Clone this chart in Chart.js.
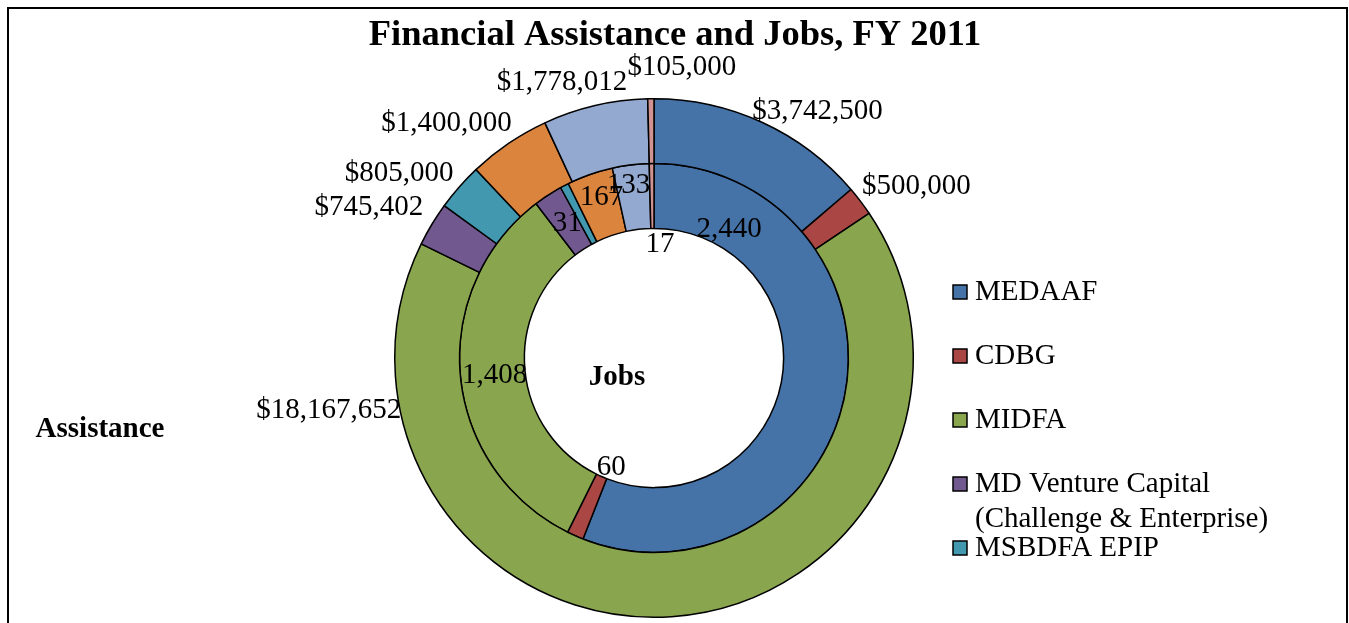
<!DOCTYPE html>
<html><head><meta charset="utf-8">
<script src="https://cdn.jsdelivr.net/npm/chart.js@4.4.0/dist/chart.umd.min.js"></script>
<style>html,body{margin:0;padding:0;background:#fff;overflow:hidden}canvas{display:block}</style>
</head><body>
<canvas id="c" width="1349" height="623"></canvas>
<script>
// ---- data ----
const TITLE = 'Financial Assistance and Jobs, FY 2011';
const programs = ['MEDAAF', 'CDBG', 'MIDFA', 'MD Venture Capital (Challenge & Enterprise)', 'MSBDFA EPIP', 'Other 1', 'Other 2', 'Other 3'];
const legendLines = [['MEDAAF'], ['CDBG'], ['MIDFA'], ['MD Venture Capital', '(Challenge & Enterprise)'], ['MSBDFA EPIP'], ['Other 1'], ['Other 2'], ['Other 3']];
const assistance = [3742500, 500000, 18167652, 745402, 805000, 1400000, 1778012, 105000];
// MD Venture Capital jobs has no visible label; estimated from its slice size
const jobs = [2440, 60, 1408, 105, 31, 167, 133, 17];
const jobsLabelShown = [true, true, true, false, true, true, true, true];
const ringNames = ['Assistance', 'Jobs'];

// ---- style ----
const colors = ['#4572A7', '#AA4643', '#89A54E', '#71588F', '#4198AF', '#DB843D', '#93A9CF', '#D19392'];
const FONT = '"Liberation Serif", "Times New Roman", serif';
// label offsets (px) relative to slice anchor point
const outerNudge = [[55,-11],[56,-15],[-343,-206],[-63,-17],[-60,-14],[-62,-20],[-33,-23],[31,-31]];
const innerNudge = [[-84,-159],[23,-39],[2,2],[0,0],[-12,9],[1,-8],[-6,-12],[8,48]];

const fmtMoney = v => '$' + v.toLocaleString('en-US');
const fmtNum = v => v.toLocaleString('en-US');

const decor = {
  id: 'decor',
  afterDatasetsDraw(chart) {
    const ctx = chart.ctx;
    ctx.save();
    // slice labels
    ctx.fillStyle = '#000';
    ctx.font = '29px ' + FONT;
    ctx.textAlign = 'center';
    ctx.textBaseline = 'middle';
    let cx = 0, cy = 0;
    [0, 1].forEach(di => {
      const meta = chart.getDatasetMeta(di);
      const vals = chart.data.datasets[di].data;
      meta.data.forEach((arc, i) => {
        const p = arc.getProps(['x','y','startAngle','endAngle','innerRadius','outerRadius'], true);
        cx = p.x; cy = p.y;
        if (di === 1 && !jobsLabelShown[i]) return;
        const nud = di === 0 ? outerNudge[i] : innerNudge[i];
        const a = (p.startAngle + p.endAngle) / 2;
        const r = di === 0 ? p.outerRadius : (p.innerRadius + p.outerRadius) / 2;
        const x = p.x + r * Math.cos(a) + nud[0];
        const y = p.y + r * Math.sin(a) + nud[1];
        ctx.fillText(di === 0 ? fmtMoney(vals[i]) : fmtNum(vals[i]), x, y);
      });
    });
    // ring names
    ctx.font = 'bold 29px ' + FONT;
    ctx.fillText(ringNames[1], cx - 37, cy + 20);
    ctx.fillText(ringNames[0], 100, 430);
    // title
    ctx.font = 'bold 36.5px ' + FONT;
    ctx.fillText(TITLE, 675, 36);
    // legend (clipped legend box)
    ctx.font = '29px ' + FONT;
    ctx.textAlign = 'left';
    const legTop = 292, legStep = 64, legBottom = 575;
    for (let i = 0; i < programs.length; i++) {
      const y = legTop + i * legStep;
      if (y + 20 > legBottom) break;
      ctx.fillStyle = colors[i];
      ctx.fillRect(953, y - 7, 14, 14);
      ctx.strokeStyle = '#000';
      ctx.lineWidth = 1.5;
      ctx.strokeRect(953, y - 7, 14, 14);
      ctx.fillStyle = '#000';
      legendLines[i].forEach((t, k) => ctx.fillText(t, 975, y + k * 35));
    }
    // frame
    ctx.strokeStyle = '#000';
    ctx.lineWidth = 2;
    ctx.strokeRect(8, 8, 1339, 700);
    ctx.restore();
  }
};

new Chart(document.getElementById('c'), {
  type: 'doughnut',
  data: {
    labels: programs,
    datasets: [
      { label: ringNames[0], data: assistance, backgroundColor: colors, borderColor: '#000', borderWidth: 1.5 },
      { label: ringNames[1], data: jobs, backgroundColor: colors, borderColor: '#000', borderWidth: 1.5 }
    ]
  },
  options: {
    responsive: false,
    animation: false,
    cutout: '50%',
    layout: { padding: { top: 98, bottom: 5, left: 394, right: 435 } },
    plugins: { legend: { display: false }, tooltip: { enabled: false }, title: { display: false } }
  },
  plugins: [decor]
});
</script>
</body></html>
